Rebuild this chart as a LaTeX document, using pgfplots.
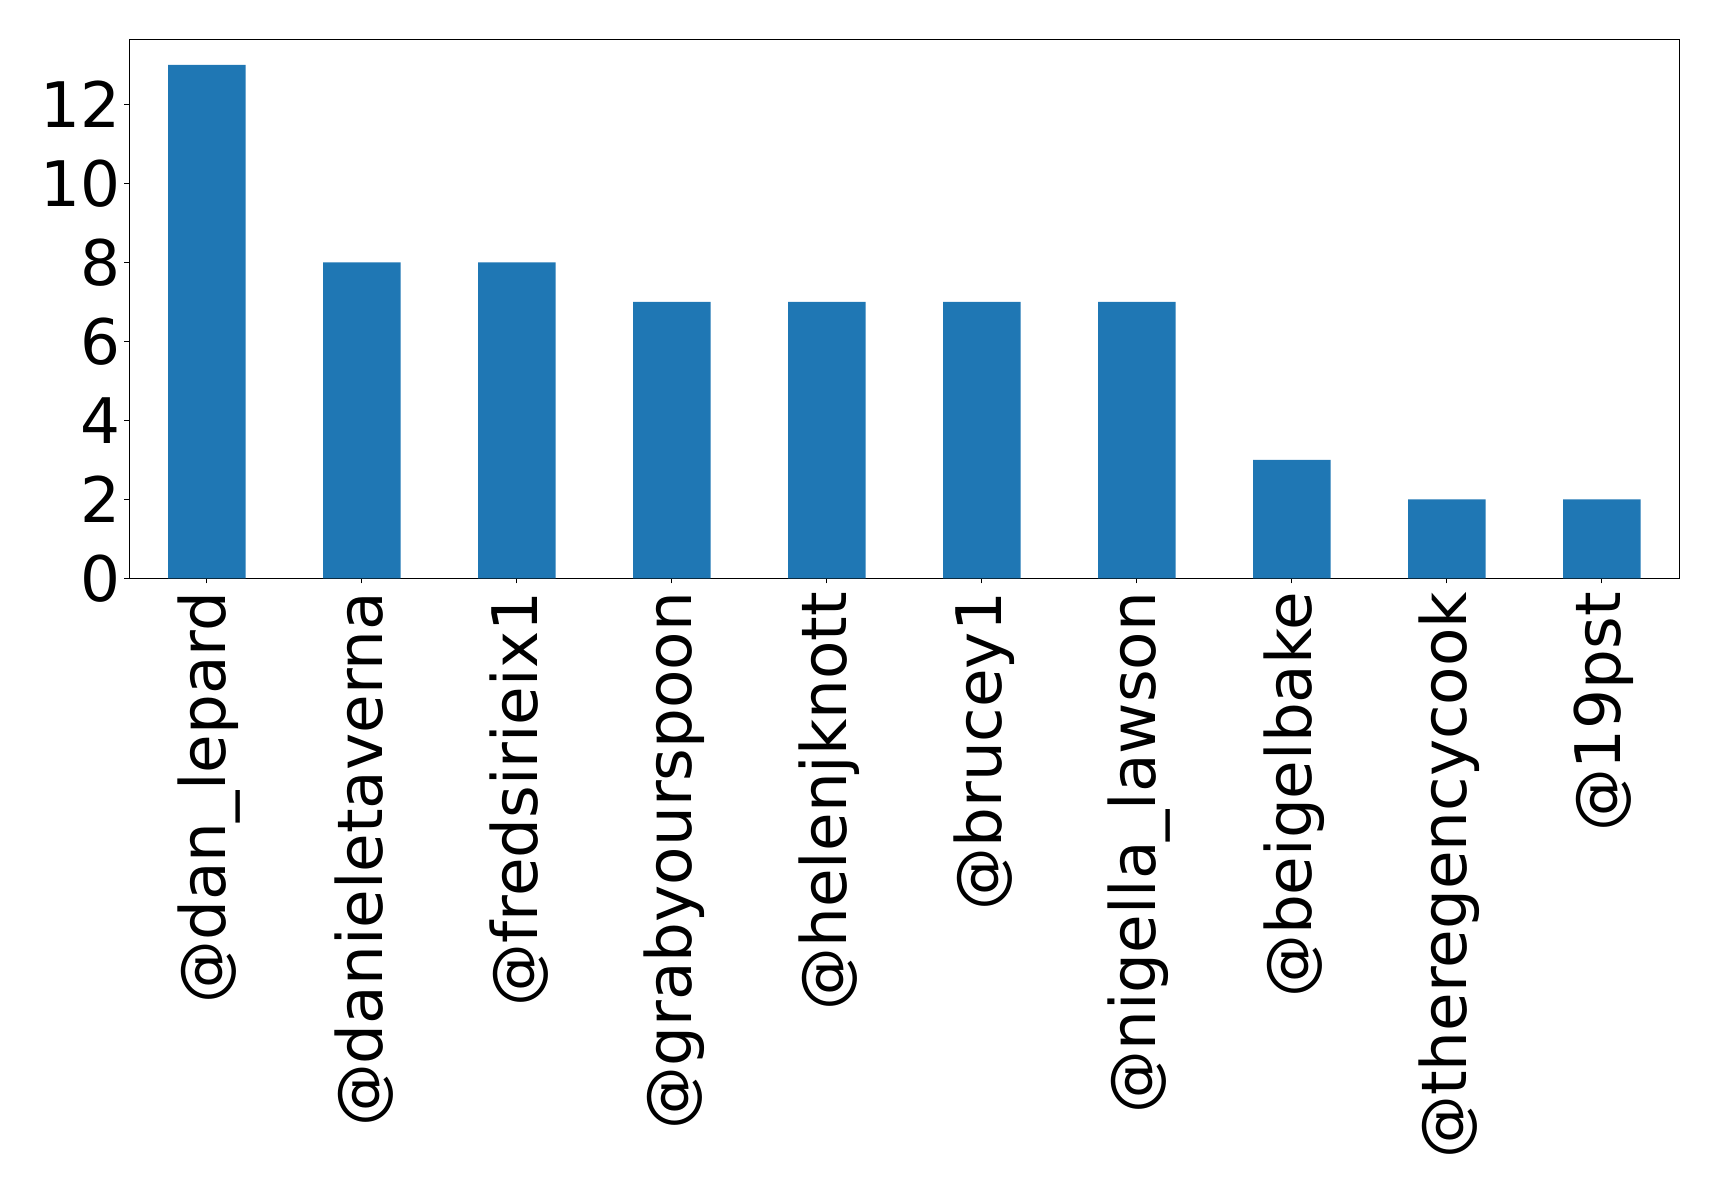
\documentclass[border=0pt]{standalone}
\usepackage{pgfplots}
\pgfplotsset{compat=1.18}
\usepackage{fontspec}
\setmainfont{DejaVu Sans}
\definecolor{mplblue}{HTML}{1F77B4}
\begin{document}
\begin{tikzpicture}
\begin{axis}[
  at={(0,0)}, anchor=south west,
  scale only axis,
  width=775pt, height=269.5pt,
  xmin=-0.5, xmax=9.5, ymin=0, ymax=13.65,
  axis line style={line width=0.6pt},
  every tick/.style={line width=0.6pt, black},
  tick align=outside,
  xtick pos=left, ytick pos=left,
  major tick length=2.5pt,
  xtick={0,...,9},
  xticklabels={@dan\_lepard,@danieletaverna,@fredsirieix1,@grabyourspoon,@helenjknott,@brucey1,@nigella\_lawson,@beigelbake,@theregencycook,@19pst},
  ytick={0,2,4,6,8,10,12},
  /pgf/number format/assume math mode=true,
  tick label style={font=\fontsize{31.4}{37}\selectfont},
  xticklabel style={yshift=-4.1pt, xshift=1.2pt, rotate=90, anchor=east, inner sep=0pt},
  yticklabel style={xshift=-1.7pt, anchor=east, inner sep=0pt},
]
\addplot[ybar, bar width=0.5, fill=mplblue, draw=none] coordinates {
(0,13) (1,8) (2,8) (3,7) (4,7) (5,7) (6,7) (7,3) (8,2) (9,2)
};
\end{axis}
\pgfresetboundingbox
\useasboundingbox (-64.65pt,-306.85pt) rectangle (794.85pt,289.15pt);
\end{tikzpicture}
\end{document}
